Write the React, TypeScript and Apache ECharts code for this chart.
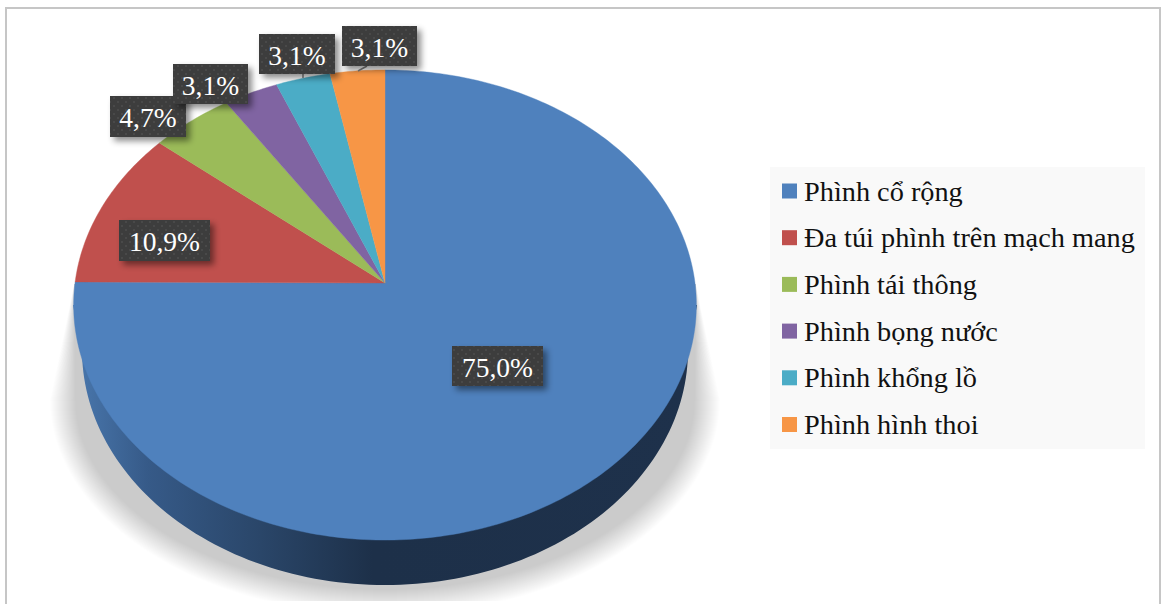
import React, { useEffect, useRef } from "react";
import * as echarts from "echarts";

const categories = [
  "Phình cổ rộng",
  "Đa túi phình trên mạch mang",
  "Phình tái thông",
  "Phình bọng nước",
  "Phình khổng lồ",
  "Phình hình thoi",
];
const sliceValues = [75.0, 10.9, 4.7, 3.1, 3.1, 3.1];
const sliceColors = ["#4f81bd", "#c0504d", "#9bbb59", "#8064a2", "#4bacc6", "#f79646"];

// Value tags: left, top, width, height of each dark box.
const tagBoxes = [
  [452, 346, 91, 40],
  [119, 220, 91, 41],
  [110, 96, 76, 41],
  [173, 64, 75, 40],
  [259, 34, 76, 40],
  [342, 26, 75, 40],
];
// Short leader ticks joining the outer tags to their slices.
const leaders = [
  [303, 74, 303, 78],
  [367, 66, 358, 71],
];

const SERIF = '"Liberation Serif", "Times New Roman", serif';
const TOTAL = sliceValues.reduce((a, b) => a + b, 0);

// The tilted disc: a circle seen in perspective, centred on the apex.
const APEX_X = 385;
const APEX_Y = 283;
const RADIUS_X = 310;
const RADIUS_Y = 233;
const TILT = -0.0936;

function onDisc(fraction: number): number[] {
  const t = fraction * Math.PI * 2;
  const u = Math.sin(t);
  const v = -Math.cos(t);
  const d = 1 + TILT * v;
  return [APEX_X + (RADIUS_X * u) / d, APEX_Y + (RADIUS_Y * v) / d];
}

function arc(cx: number, cy: number, rx: number, ry: number, from: number, to: number, n = 120) {
  const pts: number[][] = [];
  for (let i = 0; i <= n; i++) {
    const t = from + ((to - from) * i) / n;
    pts.push([cx + rx * Math.cos(t), cy + ry * Math.sin(t)]);
  }
  return pts;
}

function tagPattern(): string {
  const c = document.createElement("canvas");
  c.width = 8;
  c.height = 8;
  const g = c.getContext("2d")!;
  g.fillStyle = "#3e3e3e";
  g.fillRect(0, 0, 8, 8);
  g.fillStyle = "#484848";
  g.fillRect(1, 1, 2, 2);
  g.fillRect(5, 5, 2, 2);
  return c.toDataURL();
}

// Cast shadow: stacked translucent outlines that fade out towards the rim.
function shadowLayers() {
  const LAYERS = 26;
  const alpha = 1 - Math.pow(0.8, 1 / LAYERS);
  const layers = [];
  for (let i = 0; i < LAYERS; i++) {
    const points = [
      [74, 284],
      ...arc(385, 400, 335 - i, 215 - i, Math.PI, 0, 90),
      [696, 284],
    ];
    layers.push({
      type: "polygon",
      shape: { points },
      style: { fill: `rgba(0,0,0,${alpha})` },
    });
  }
  return layers;
}

export default function App() {
  const ref = useRef<HTMLDivElement>(null);

  useEffect(() => {
    document.body.style.margin = "0";
    const chart = echarts.init(ref.current!, undefined, { renderer: "svg" });
    const pattern = tagPattern();

    const renderBase = () => {
      const wall = [
        [73, 305],
        ...arc(385, 350, 303, 235, Math.PI * 0.995, Math.PI * 0.005),
        [697, 305],
      ];
      return {
        type: "group",
        silent: true,
        children: [
          ...shadowLayers(),
          // Cuts the cast shadow off at the foot of the frame.
          { type: "rect", shape: { x: 7, y: 601, width: 1152, height: 3 }, style: { fill: "#ffffff" } },
          {
            type: "polygon",
            shape: { points: wall },
            style: {
              fill: new echarts.graphic.LinearGradient(0, 0, 1, 0, [
                { offset: 0, color: "#4a78ae" },
                { offset: 0.12, color: "#365a88" },
                { offset: 0.3, color: "#2a4669" },
                { offset: 0.48, color: "#1d3049" },
                { offset: 1, color: "#1e314b" },
              ]),
            },
          },
        ],
      };
    };

    const sliceSeries = sliceValues.map((_, idx) => ({
      type: "custom",
      name: categories[idx],
      coordinateSystem: "none",
      silent: true,
      itemStyle: { color: sliceColors[idx] },
      data: [[sliceValues[idx]]],
      renderItem: (_p: unknown, api: any) => {
        const value = api.value(0);
        const start = sliceValues.slice(0, idx).reduce((a, b) => a + b, 0) / TOTAL;
        const end = start + value / TOTAL;
        const steps = Math.max(8, Math.ceil((end - start) * 360));
        const points = [[APEX_X, APEX_Y]];
        for (let i = 0; i <= steps; i++) points.push(onDisc(start + ((end - start) * i) / steps));
        return {
          type: "polygon",
          shape: { points },
          style: { fill: sliceColors[idx], stroke: sliceColors[idx], lineWidth: 0.4 },
        };
      },
    }));

    const renderTags = () => ({
      type: "group",
      silent: true,
      children: [
        ...leaders.map((l) => ({
          type: "line",
          shape: { x1: l[0], y1: l[1], x2: l[2], y2: l[3] },
          style: { stroke: "#7f7f7f", lineWidth: 1.5 },
        })),
        ...sliceValues.flatMap((v, i) => {
          const [x, y, w, h] = tagBoxes[i];
          return [
            {
              type: "rect",
              shape: { x, y, width: w, height: h },
              style: {
                fill: { image: pattern, repeat: "repeat", imageWidth: 8, imageHeight: 8 },
                shadowBlur: 6,
                shadowOffsetX: 4,
                shadowOffsetY: 4,
                shadowColor: "rgba(0,0,0,0.45)",
              },
            },
            {
              type: "text",
              style: {
                x: x + w / 2,
                y: y + h / 2 + 1,
                text: v.toFixed(1).replace(".", ",") + "%",
                fill: "#ffffff",
                font: `27.5px ${SERIF}`,
                textAlign: "center",
                textVerticalAlign: "middle",
              },
            },
          ];
        }),
      ],
    });

    chart.setOption({
      animation: false,
      backgroundColor: "#ffffff",
      tooltip: { show: false },
      graphic: [
        { type: "rect", shape: { x: 5, y: 7, width: 2, height: 597 }, style: { fill: "#c6c6c6" }, silent: true },
        { type: "rect", shape: { x: 5, y: 7, width: 1156, height: 2 }, style: { fill: "#c6c6c6" }, silent: true },
        { type: "rect", shape: { x: 1159, y: 7, width: 2, height: 597 }, style: { fill: "#c6c6c6" }, silent: true },
        { type: "rect", shape: { x: 770, y: 167, width: 375, height: 282 }, style: { fill: "#f9f9f9" }, silent: true },
      ],
      legend: {
        data: categories,
        orient: "vertical",
        left: 782,
        top: 177,
        padding: 0,
        itemWidth: 15,
        itemHeight: 15,
        itemGap: 18.7,
        icon: "rect",
        selectedMode: false,
        textStyle: { fontFamily: SERIF, fontSize: 28.3, color: "#111111", padding: [0, 0, 0, 2] },
      },
      series: [
        { type: "custom", name: "base", coordinateSystem: "none", silent: true, data: [[0]], renderItem: renderBase },
        ...sliceSeries,
        { type: "custom", name: "tags", coordinateSystem: "none", silent: true, data: [[0]], renderItem: renderTags },
      ],
    });

    return () => chart.dispose();
  }, []);

  return <div ref={ref} style={{ width: 1161, height: 604 }} />;
}
